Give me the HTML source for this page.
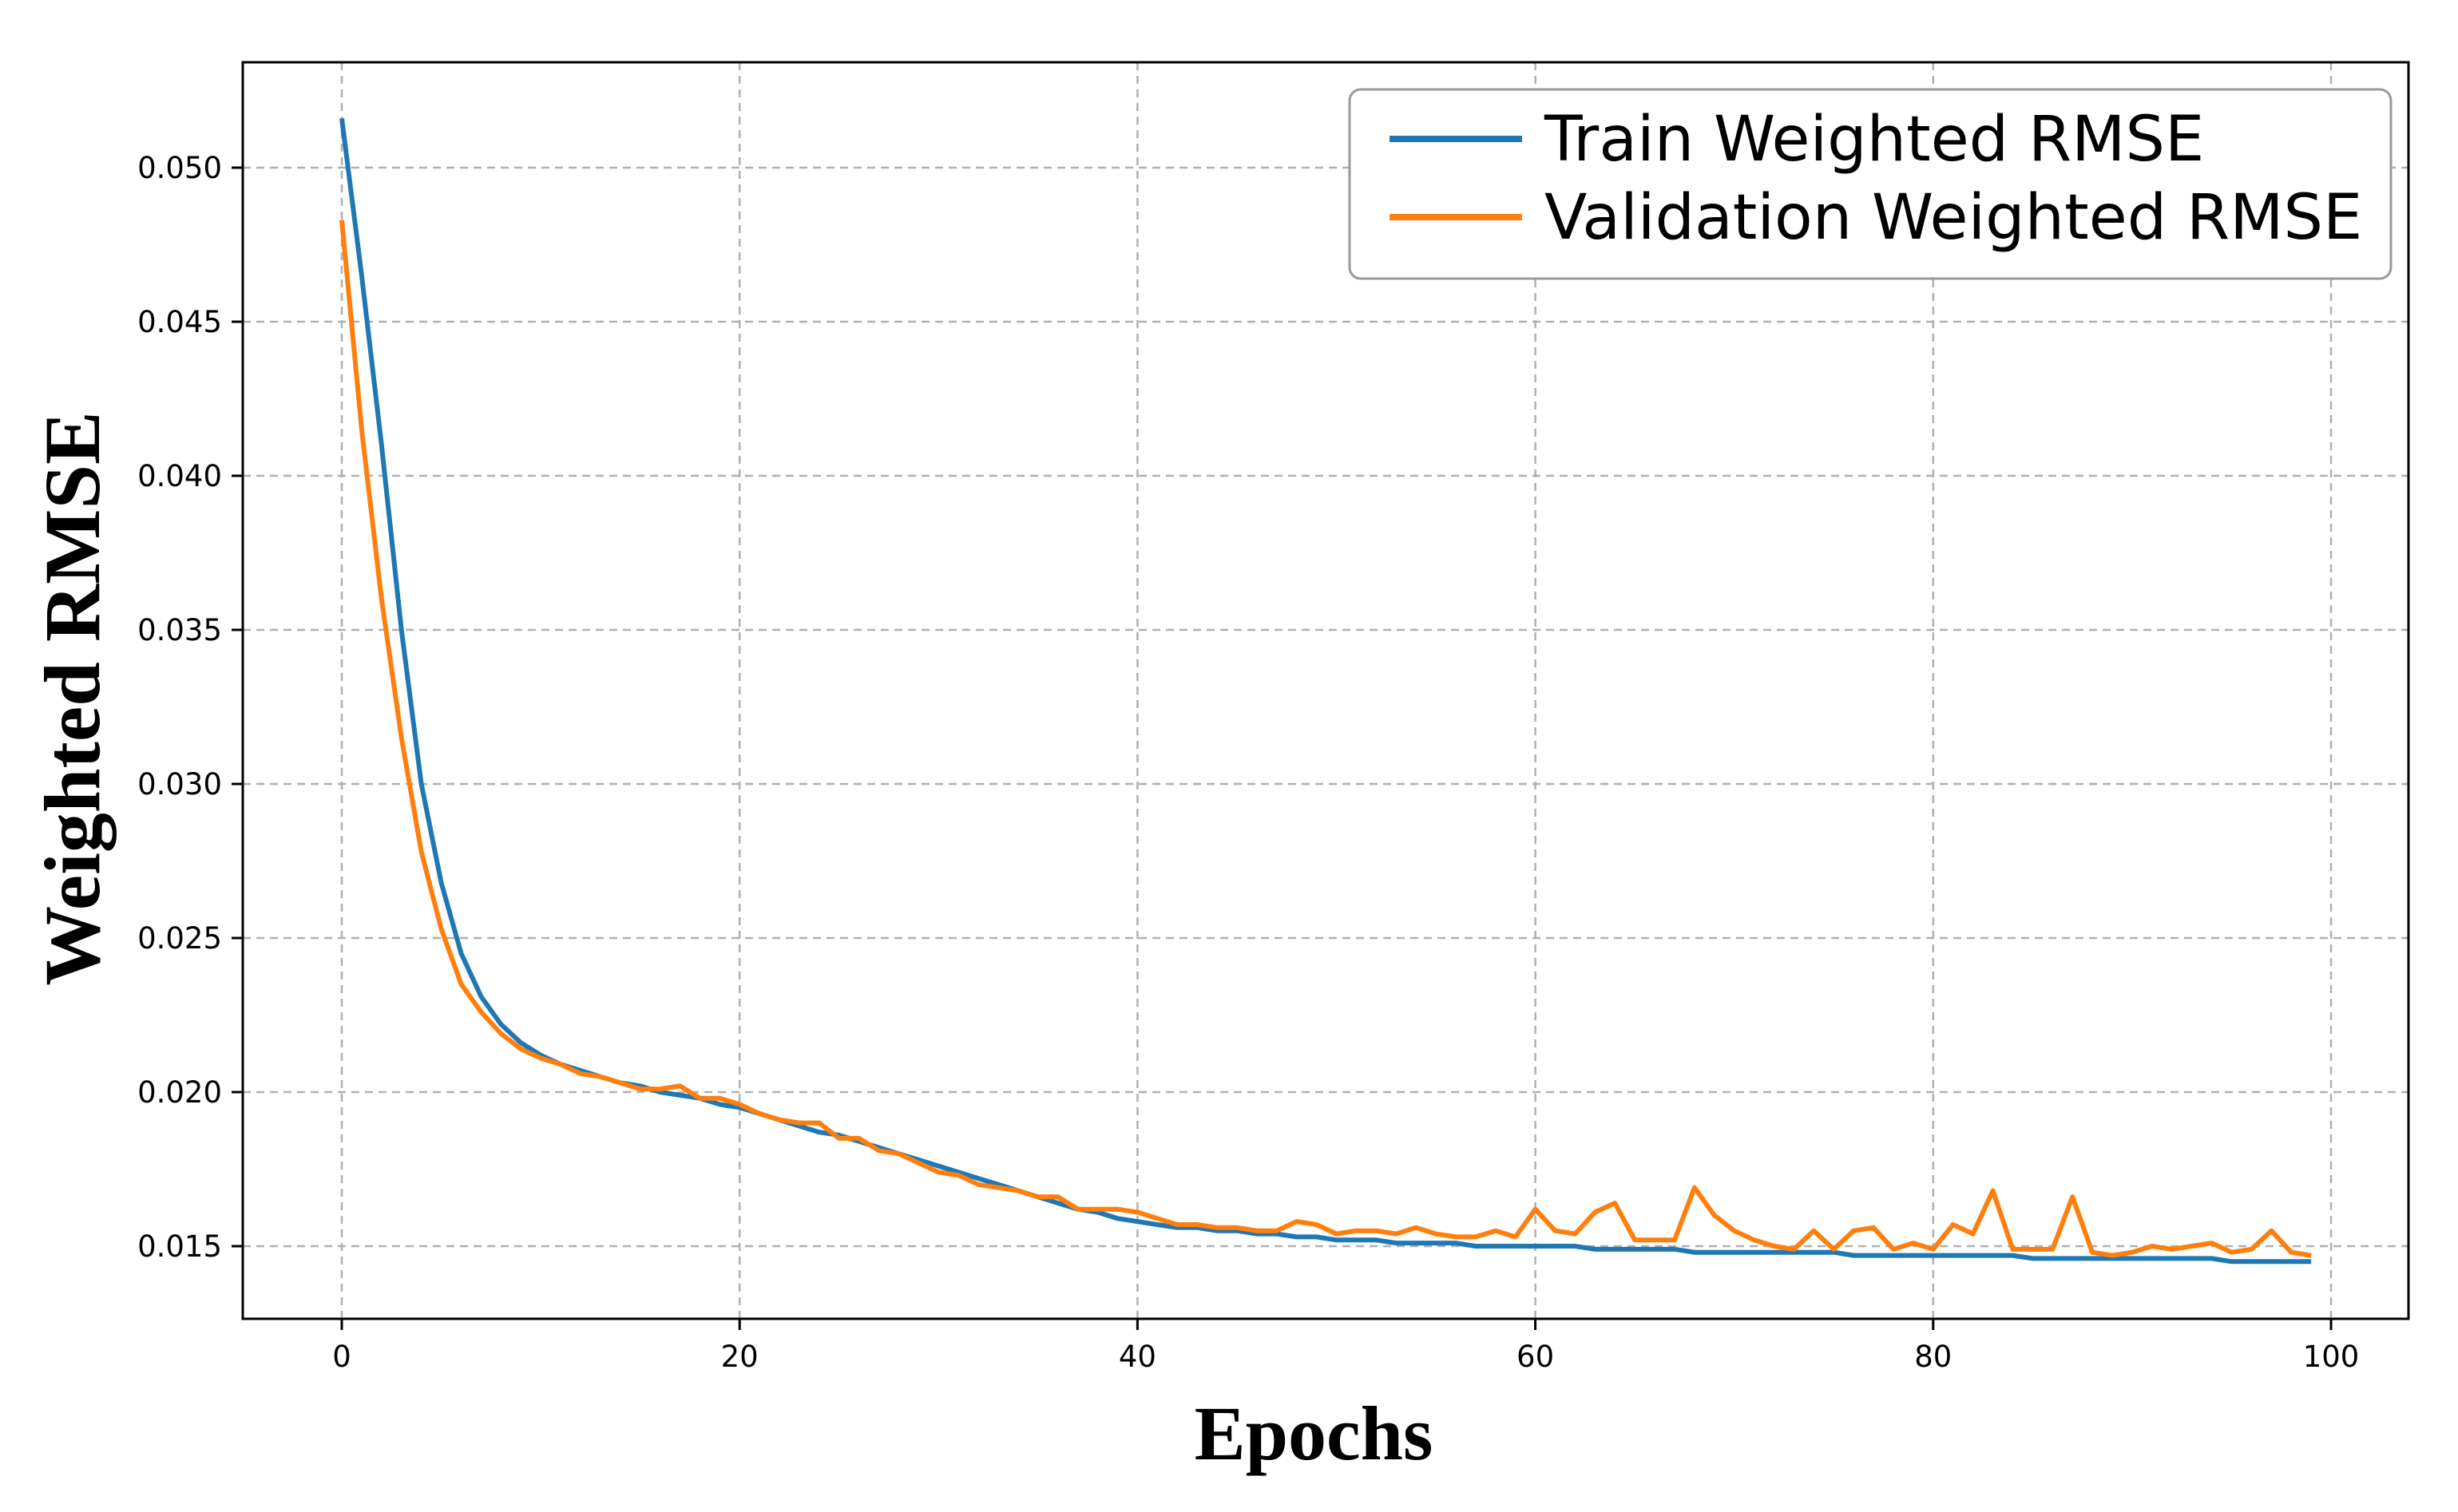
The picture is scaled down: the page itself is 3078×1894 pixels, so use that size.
<!DOCTYPE html>
<html><head><meta charset="utf-8"><style>
html,body{margin:0;padding:0;background:#fff;}
svg{display:block;}
</style></head><body>
<svg id="chart" width="3078" height="1894" xmlns="http://www.w3.org/2000/svg">
<g id="grid"></g>
<g id="series"></g>
<rect x="304" y="78" width="2712" height="1574" fill="none" stroke="#000" stroke-width="3"/>
<g id="ticks"></g>
<text transform="translate(124,875) rotate(-90)" text-anchor="middle" font-family="Liberation Serif, serif" font-weight="bold" font-size="100">Weighted RMSE</text>
<text x="1645" y="1828" text-anchor="middle" font-family="Liberation Serif, serif" font-weight="bold" font-size="96">Epochs</text>
<g>
<rect x="1690" y="112" width="1304" height="237" rx="14" fill="#fff" stroke="#999" stroke-width="3"/>
<line x1="1740" y1="174" x2="1906" y2="174" stroke="#1f77b4" stroke-width="8"/>
<text x="1934" y="201" font-family="DejaVu Sans, sans-serif" font-size="78">Train Weighted RMSE</text>
<line x1="1740" y1="272" x2="1906" y2="272" stroke="#ff7f0e" stroke-width="8"/>
<text x="1934" y="299" font-family="DejaVu Sans, sans-serif" font-size="78">Validation Weighted RMSE</text>
</g>
</svg>
<script>
const xTicks=[0,20,40,60,80,100];
const yTicks=[0.015,0.020,0.025,0.030,0.035,0.040,0.045,0.050];
const yTickLabels=["0.015","0.020","0.025","0.030","0.035","0.040","0.045","0.050"];
const trainRMSE=[0.0516,0.0465,0.041,0.035,0.030,0.0268,0.0245,0.0231,0.0222,0.0216,0.0212,0.0209,0.0207,0.0205,0.0203,0.0202,0.0200,0.0199,0.0198,0.0196,0.0195,0.0193,0.0191,0.0189,0.0187,0.0186,0.0184,0.0182,0.0180,0.0178,0.0176,0.0174,0.0172,0.0170,0.0168,0.0166,0.0164,0.0162,0.0161,0.0159,0.0158,0.0157,0.0156,0.0156,0.0155,0.0155,0.0154,0.0154,0.0153,0.0153,0.0152,0.0152,0.0152,0.0151,0.0151,0.0151,0.0151,0.0150,0.0150,0.0150,0.0150,0.0150,0.0150,0.0149,0.0149,0.0149,0.0149,0.0149,0.0148,0.0148,0.0148,0.0148,0.0148,0.0148,0.0148,0.0148,0.0147,0.0147,0.0147,0.0147,0.0147,0.0147,0.0147,0.0147,0.0147,0.0146,0.0146,0.0146,0.0146,0.0146,0.0146,0.0146,0.0146,0.0146,0.0146,0.0145,0.0145,0.0145,0.0145,0.0145];
const valRMSE=[0.0483,0.0415,0.036,0.0315,0.0278,0.0253,0.0235,0.0226,0.0219,0.0214,0.0211,0.0209,0.0206,0.0205,0.0203,0.0201,0.0201,0.0202,0.0198,0.0198,0.0196,0.0193,0.0191,0.0190,0.0190,0.0185,0.0185,0.0181,0.0180,0.0177,0.0174,0.0173,0.0170,0.0169,0.0168,0.0166,0.0166,0.0162,0.0162,0.0162,0.0161,0.0159,0.0157,0.0157,0.0156,0.0156,0.0155,0.0155,0.0158,0.0157,0.0154,0.0155,0.0155,0.0154,0.0156,0.0154,0.0153,0.0153,0.0155,0.0153,0.0162,0.0155,0.0154,0.0161,0.0164,0.0152,0.0152,0.0152,0.0169,0.0160,0.0155,0.0152,0.0150,0.0149,0.0155,0.0149,0.0155,0.0156,0.0149,0.0151,0.0149,0.0157,0.0154,0.0168,0.0149,0.0149,0.0149,0.0166,0.0148,0.0147,0.0148,0.0150,0.0149,0.0150,0.0151,0.0148,0.0149,0.0155,0.0148,0.0147];
const NS="http://www.w3.org/2000/svg";
function xs(v){return 428+(v/100)*(2919-428);}
function ys(v){return 1561-(v-0.015)/0.005*193;}
const grid=document.getElementById('grid'),ticks=document.getElementById('ticks'),series=document.getElementById('series');
function mk(tag,attrs,parent){const e=document.createElementNS(NS,tag);for(const k in attrs)e.setAttribute(k,attrs[k]);parent.appendChild(e);return e;}
xTicks.forEach((t,i)=>{
  const g=mk('line',{x1:xs(t),x2:xs(t),y1:78,y2:1652,stroke:'#b0b0b0','stroke-width':2.5,'stroke-dasharray':'10,7'},grid);
  
  
  const tk=mk('line',{x1:xs(t),x2:xs(t),y1:1652,y2:1666,stroke:'#000','stroke-width':3},ticks);
  
  
  const tx=mk('text',{x:xs(t),y:1712,'text-anchor':'middle','font-family':'DejaVu Sans, sans-serif','font-size':37},ticks);
  
  
  tx.textContent=String(t);
});
yTicks.forEach((t,i)=>{
  const g=mk('line',{x1:304,x2:3016,y1:ys(t),y2:ys(t),stroke:'#b0b0b0','stroke-width':2.5,'stroke-dasharray':'10,7'},grid);
  
  
  const tk=mk('line',{x1:290,x2:304,y1:ys(t),y2:ys(t),stroke:'#000','stroke-width':3},ticks);
  
  
  const tx=mk('text',{x:278,y:ys(t)+13,'text-anchor':'end','font-family':'DejaVu Sans, sans-serif','font-size':37},ticks);
  
  
  tx.textContent=yTickLabels[i];
});
function path(arr,color,name){
  const d=arr.map((v,i)=>(i?'L':'M')+xs(i).toFixed(1)+','+ys(v).toFixed(1)).join(' ');
  const p=mk('path',{d:d,fill:'none',stroke:color,'stroke-width':6,'stroke-linejoin':'round'},series);
  
  
}
path(trainRMSE,'#1f77b4','train-line');
path(valRMSE,'#ff7f0e','validation-line');
</script>
</body></html>
